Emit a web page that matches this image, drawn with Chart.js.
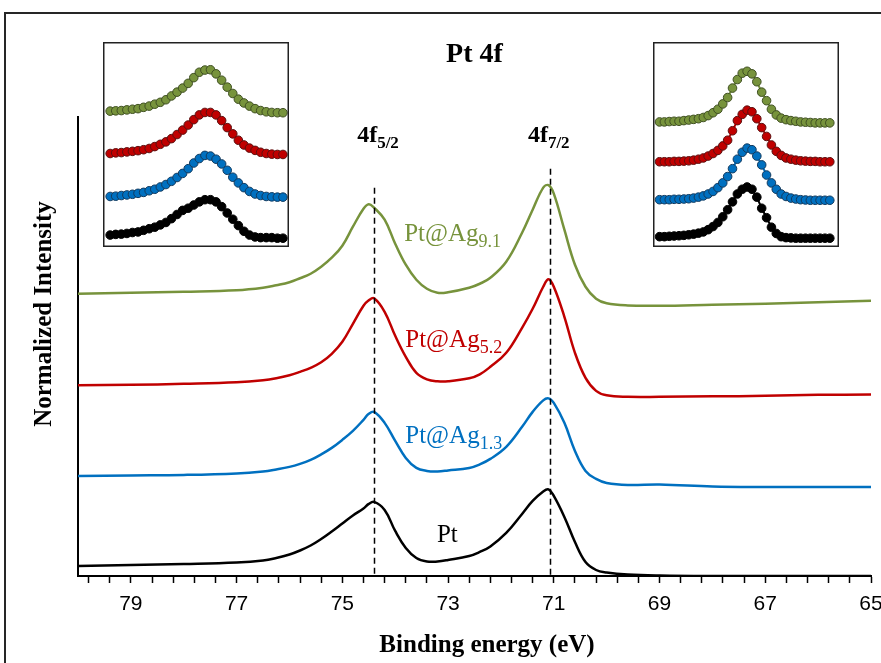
<!DOCTYPE html>
<html>
<head>
<meta charset="utf-8">
<title>Pt 4f</title>
<script src="https://cdn.jsdelivr.net/npm/chart.js@4.4.0/dist/chart.umd.min.js"></script>
<style>
  html, body { margin: 0; padding: 0; background: #fff; overflow: hidden; }
  #wrap { position: relative; width: 881px; height: 663px; }
  #frame { position: absolute; left: 4px; top: 12px; width: 920px; height: 720px; border: 2px solid #262626; box-sizing: border-box; }
  canvas { position: absolute; }
  .inset { background: #fff; }
</style>
</head>
<body>
<div id="wrap">
  <div id="frame"></div>
  <canvas id="mainChart" width="881" height="663" style="left:0;top:0"></canvas>
  <canvas id="insetLeft" class="inset" width="186" height="205" style="left:103px;top:42px"></canvas>
  <canvas id="insetRight" class="inset" width="186" height="205" style="left:653px;top:42px"></canvas>
</div>
<script>
// Espectro completo - energia de ligação (eV)
const energy = [80, 79, 78, 77, 76.5, 76.25, 76, 75.8, 75.6, 75.4, 75.2, 75.0, 74.8, 74.6, 74.5, 74.4, 74.2, 74.0,
  73.8, 73.6, 73.4, 73.2, 73.0, 72.6, 72.4, 72.2, 71.9, 71.6, 71.4, 71.2, 71.1, 71.0,
  70.8, 70.6, 70.4, 70.2, 70.0, 69.6, 69.0, 68, 67, 66, 65];

// intensidade normalizada (com deslocamento vertical), mesma ordem de energy
const pt = [10, 11, 12, 13.5, 15.5, 18, 21.5, 25.5, 30.5, 37, 44.5, 52.5, 60.5, 67.5, 72, 74, 66, 45,
  28, 18, 14.5, 14.5, 16, 20, 24, 29.5, 43, 62, 75, 84.5, 86.5, 80,
  59, 34, 14, 6, 3.5, 1.5, 0.5, 0, 0, 0, 0];
const ptAg13 = [100, 100.5, 101, 102.5, 104.5, 106.5, 109, 112, 116, 121.5, 128, 136, 145, 156, 162, 164, 153, 135,
  118, 108, 105, 104.5, 105.5, 108, 111.5, 117, 129, 149, 164, 175.5, 177.5, 173,
  153, 125, 105, 97, 93, 91, 91.5, 89.5, 89, 89, 89];
const ptAg52 = [190.5, 191, 192, 193.5, 195.5, 197.5, 200.5, 204, 208, 213.5, 222, 234, 252, 270, 275.5, 277.5, 264, 240,
  219, 203, 196.5, 194.5, 194.5, 197.5, 201.5, 209, 223, 248, 267, 289, 296.5, 289,
  259, 223, 198, 185, 180.5, 179, 179, 179.5, 180, 181, 181.3];
const ptAg91 = [282, 283, 284, 285.5, 288, 290.5, 293.5, 297.5, 302, 309, 318, 330, 349, 367, 371.5, 368, 356, 332,
  311, 296, 287, 283, 283.5, 288, 292, 298, 314, 343, 366, 388, 390.5, 382,
  346, 311, 289, 277, 272.5, 270.3, 270, 271, 272, 273.5, 275];

// detalhe 4f5/2 (inserto da esquerda)
const energyLeft = [76.9, 76.75, 76.6, 76.45, 76.3, 76.15, 76.0, 75.85, 75.7, 75.55, 75.4, 75.25, 75.1, 74.95, 74.8, 74.65,
  74.5, 74.35, 74.2, 74.05, 73.9, 73.75, 73.6, 73.45, 73.3, 73.15, 73.0, 72.85, 72.7, 72.55, 72.4, 72.25];
const ptLeft = [7, 7.7, 8, 8.7, 9.7, 10.3, 12, 13.7, 15.3, 17.7, 20.3, 24.3, 28.7, 33, 35.3, 38.7,
  42, 44.3, 44.3, 42, 37, 30.3, 23.7, 17, 11, 7, 5, 4.3, 4.3, 4.3, 3.7, 3.7];
const ptAg13Left = [47.7, 48, 48.7, 49.3, 50, 51, 52, 53.7, 55.3, 57.7, 60.3, 63.7, 67.7, 72, 77, 83,
  87.7, 91, 90.3, 87, 82, 75.3, 68, 62, 57, 53, 50.3, 48.7, 47.7, 47.3, 47, 47];
const ptAg52Left = [93, 93.7, 94, 94.7, 95.3, 96, 97, 98.3, 100.3, 102.7, 105.3, 108.7, 113, 117.7, 123, 128.7,
  133.7, 136.3, 136.3, 133.7, 127.7, 120.3, 113.7, 107, 102, 98.7, 96.3, 94.3, 93, 92.3, 92, 92];
const ptAg91Left = [137.7, 138, 138.3, 139, 139.7, 140.3, 141.7, 143, 145, 147, 149.7, 153.7, 157.7, 162, 167, 173,
  178.7, 181, 181.3, 177, 170.3, 163, 156.3, 150.3, 146.3, 143, 140.3, 138.3, 137, 136.3, 136, 136];

// detalhe 4f7/2 (inserto da direita)
const energyRight = [72.8, 72.7, 72.6, 72.5, 72.4, 72.3, 72.2, 72.1, 72.0, 71.9, 71.8, 71.7, 71.6, 71.5, 71.4, 71.3, 71.2, 71.1,
  71.0, 70.9, 70.8, 70.7, 70.6, 70.5, 70.4, 70.3, 70.2, 70.1, 70.0, 69.9, 69.8, 69.7, 69.6, 69.5, 69.4, 69.3];
const ptRight = [5.3, 5.3, 5.7, 6, 6.3, 6.7, 7.3, 8, 9, 10.3, 12.7, 16, 20.3, 26.3, 33.7, 42, 50.3, 55.3,
  57.7, 55.3, 47, 35.3, 25.3, 15.3, 8.7, 5.3, 4.3, 4, 3.7, 3.7, 3.7, 3.7, 3.7, 3.7, 3.7, 3.7];
const ptAg13Right = [44.3, 44.3, 44.3, 44.7, 44.7, 45, 45.3, 46, 47, 48.3, 50.3, 53, 57, 62, 68.7, 77, 87, 94.3,
  98.7, 97, 90.3, 81, 70.3, 62, 55.3, 50.3, 47.7, 46, 45, 44.3, 44, 43.7, 43.7, 43.7, 43.7, 43.7];
const ptAg52Right = [84.3, 84.3, 84.3, 84.7, 84.7, 85, 85.3, 86, 87, 88.3, 90.3, 93, 96.3, 101, 107, 117, 127.7, 134.3,
  138.7, 137, 129.7, 120.3, 111, 102, 95.3, 91, 88.3, 87, 86, 85.3, 85, 84.7, 84.7, 84.3, 84.3, 84.3];
const ptAg91Right = [126.3, 126.3, 126.7, 127, 127, 127.7, 128.3, 129, 129.7, 131, 133, 136, 139.7, 145.3, 152, 162, 171, 177.7,
  179.7, 177, 168.7, 157.7, 148.7, 139.7, 133.7, 130.3, 128.7, 127.7, 127, 126.3, 126, 125.7, 125.3, 125.3, 125.3, 125.3];

// amostras e picos
const sampleBase = ['Pt', 'Pt@Ag', 'Pt@Ag', 'Pt@Ag'];
const sampleSub = ['', '1.3', '5.2', '9.1'];
const peakNames = ['4f', '4f'];
const peakSubs = ['5/2', '7/2'];
const peakEnergy = [74.4, 71.07];
const peakLineTop = [388, 407];
const tickLabels = [79, 77, 75, 73, 71, 69, 67, 65];

const colors = ['#000000', '#0070C0', '#C00000', '#77933C'];
const markerEdge = ['#000000', '#123a5e', '#5a1010', '#3f4f22'];

const serif = '"Liberation Serif", "Times New Roman", serif';
Chart.defaults.font.family = serif;
Chart.defaults.color = '#000';

const toXY = (xs, ys) => xs.map((e, i) => ({ x: e, y: ys[i] }));

// posições dos rótulos (energia, intensidade)
const sampleLabelPos = [[73.21, 34], [73.81, 133], [73.81, 229], [73.83, 335]];
const peakLabelPos = [[74.72, 434], [71.49, 434]];

function drawSub(ctx, x, y, main, sub, font, subFont, drop) {
  ctx.font = font;
  ctx.fillText(main, x, y);
  const w = ctx.measureText(main).width;
  if (sub) {
    ctx.font = subFont;
    ctx.fillText(sub, x + w, y + drop);
  }
}

const annotations = {
  id: 'annotations',
  afterDatasetsDraw(chart) {
    const { ctx, scales: { x, y } } = chart;
    ctx.save();
    // linhas tracejadas nos picos
    ctx.strokeStyle = '#000';
    ctx.lineWidth = 1.5;
    ctx.setLineDash([6, 4]);
    peakEnergy.forEach((e, i) => {
      const px = Math.round(x.getPixelForValue(e)) + 0.5;
      ctx.beginPath();
      ctx.moveTo(px, y.getPixelForValue(peakLineTop[i]));
      ctx.lineTo(px, y.getPixelForValue(0));
      ctx.stroke();
    });
    ctx.setLineDash([]);

    ctx.textBaseline = 'alphabetic';
    ctx.textAlign = 'left';
    // 4f5/2 e 4f7/2
    ctx.fillStyle = '#000';
    peakNames.forEach((n, i) => {
      drawSub(ctx, x.getPixelForValue(peakLabelPos[i][0]), y.getPixelForValue(peakLabelPos[i][1]),
        n, peakSubs[i], 'bold 24px ' + serif, 'bold 17px ' + serif, 6);
    });
    // nomes das amostras
    sampleBase.forEach((n, i) => {
      ctx.fillStyle = colors[i];
      drawSub(ctx, x.getPixelForValue(sampleLabelPos[i][0]), y.getPixelForValue(sampleLabelPos[i][1]),
        n, sampleSub[i], '25px ' + serif, '18px ' + serif, 6);
    });

    // títulos dos eixos
    ctx.fillStyle = '#000';
    ctx.textAlign = 'center';
    ctx.textBaseline = 'middle';
    ctx.font = 'bold 25px ' + serif;
    ctx.fillText('Binding energy (eV)', 487, 646);
    ctx.translate(45, 314);
    ctx.rotate(-Math.PI / 2);
    ctx.fillText('Normalized Intensity', 0, 0);
    ctx.restore();
  }
};

new Chart(document.getElementById('mainChart').getContext('2d'), {
  type: 'line',
  data: {
    datasets: [pt, ptAg13, ptAg52, ptAg91].map((s, i) => ({
      data: toXY(energy, s),
      borderColor: colors[i],
      borderWidth: 2.5,
      pointRadius: 0,
      tension: 0.4,
      fill: false
    }))
  },
  options: {
    responsive: false,
    animation: false,
    devicePixelRatio: 1,
    layout: { padding: { left: 0, right: 10, top: 0, bottom: 0 } },
    plugins: {
      legend: { display: false },
      tooltip: { enabled: false },
      title: {
        display: true,
        text: 'Pt 4f',
        fullSize: false,
        font: { size: 28, weight: 'bold', family: serif },
        color: '#000',
        padding: { top: 38, bottom: 45 }
      }
    },
    scales: {
      x: {
        type: 'linear',
        reverse: true,
        min: 65,
        max: 80,
        afterBuildTicks: s => {
          const t = [];
          for (let k = 0; k < 38; k++) t.push({ value: 65 + k * 0.4 });
          s.ticks = t;
        },
        afterFit: s => { s.height = 87; },
        ticks: {
          autoSkip: false,
          maxRotation: 0,
          padding: 9,
          color: '#000',
          font: { family: '"Liberation Sans", Arial, sans-serif', size: 21 },
          callback: v => {
            const r = Math.round(v * 10) / 10;
            return tickLabels.includes(r) ? String(r) : '';
          }
        },
        grid: { drawOnChartArea: false, drawTicks: true, tickLength: 7, tickWidth: 1.5, tickColor: '#000' },
        border: { color: '#000', width: 2 }
      },
      y: {
        min: 0,
        max: 459,
        afterFit: s => { s.width = 78; },
        ticks: { display: false },
        grid: { display: false },
        border: { color: '#000', width: 2 }
      }
    }
  },
  plugins: [annotations]
});

// moldura dos insertos
const insetFrame = {
  id: 'insetFrame',
  afterDraw(chart) {
    const { ctx, width, height } = chart;
    ctx.save();
    ctx.strokeStyle = '#222';
    ctx.lineWidth = 1.5;
    ctx.strokeRect(0.75, 0.75, width - 1.5, height - 1.5);
    ctx.restore();
  }
};

function inset(id, xs, series, xmin, xmax) {
  new Chart(document.getElementById(id).getContext('2d'), {
    type: 'line',
    data: {
      datasets: series.map((s, i) => ({
        data: toXY(xs, s),
        borderColor: colors[i],
        borderWidth: 2,
        backgroundColor: colors[i],
        pointBackgroundColor: colors[i],
        pointBorderColor: markerEdge[i],
        pointBorderWidth: 1,
        pointRadius: 4.3,
        tension: 0,
        clip: false
      }))
    },
    options: {
      responsive: false,
      animation: false,
      devicePixelRatio: 1,
      layout: { padding: 0 },
      plugins: { legend: { display: false }, tooltip: { enabled: false } },
      scales: {
        x: { type: 'linear', reverse: true, min: xmin, max: xmax, display: false },
        y: { min: 0, max: 205, display: false }
      }
    },
    plugins: [insetFrame]
  });
}

inset('insetLeft', energyLeft, [ptLeft, ptAg13Left, ptAg52Left, ptAg91Left], 72.23, 76.95);
inset('insetRight', energyRight, [ptRight, ptAg13Right, ptAg52Right, ptAg91Right], 69.22, 72.825);
</script>
</body>
</html>
